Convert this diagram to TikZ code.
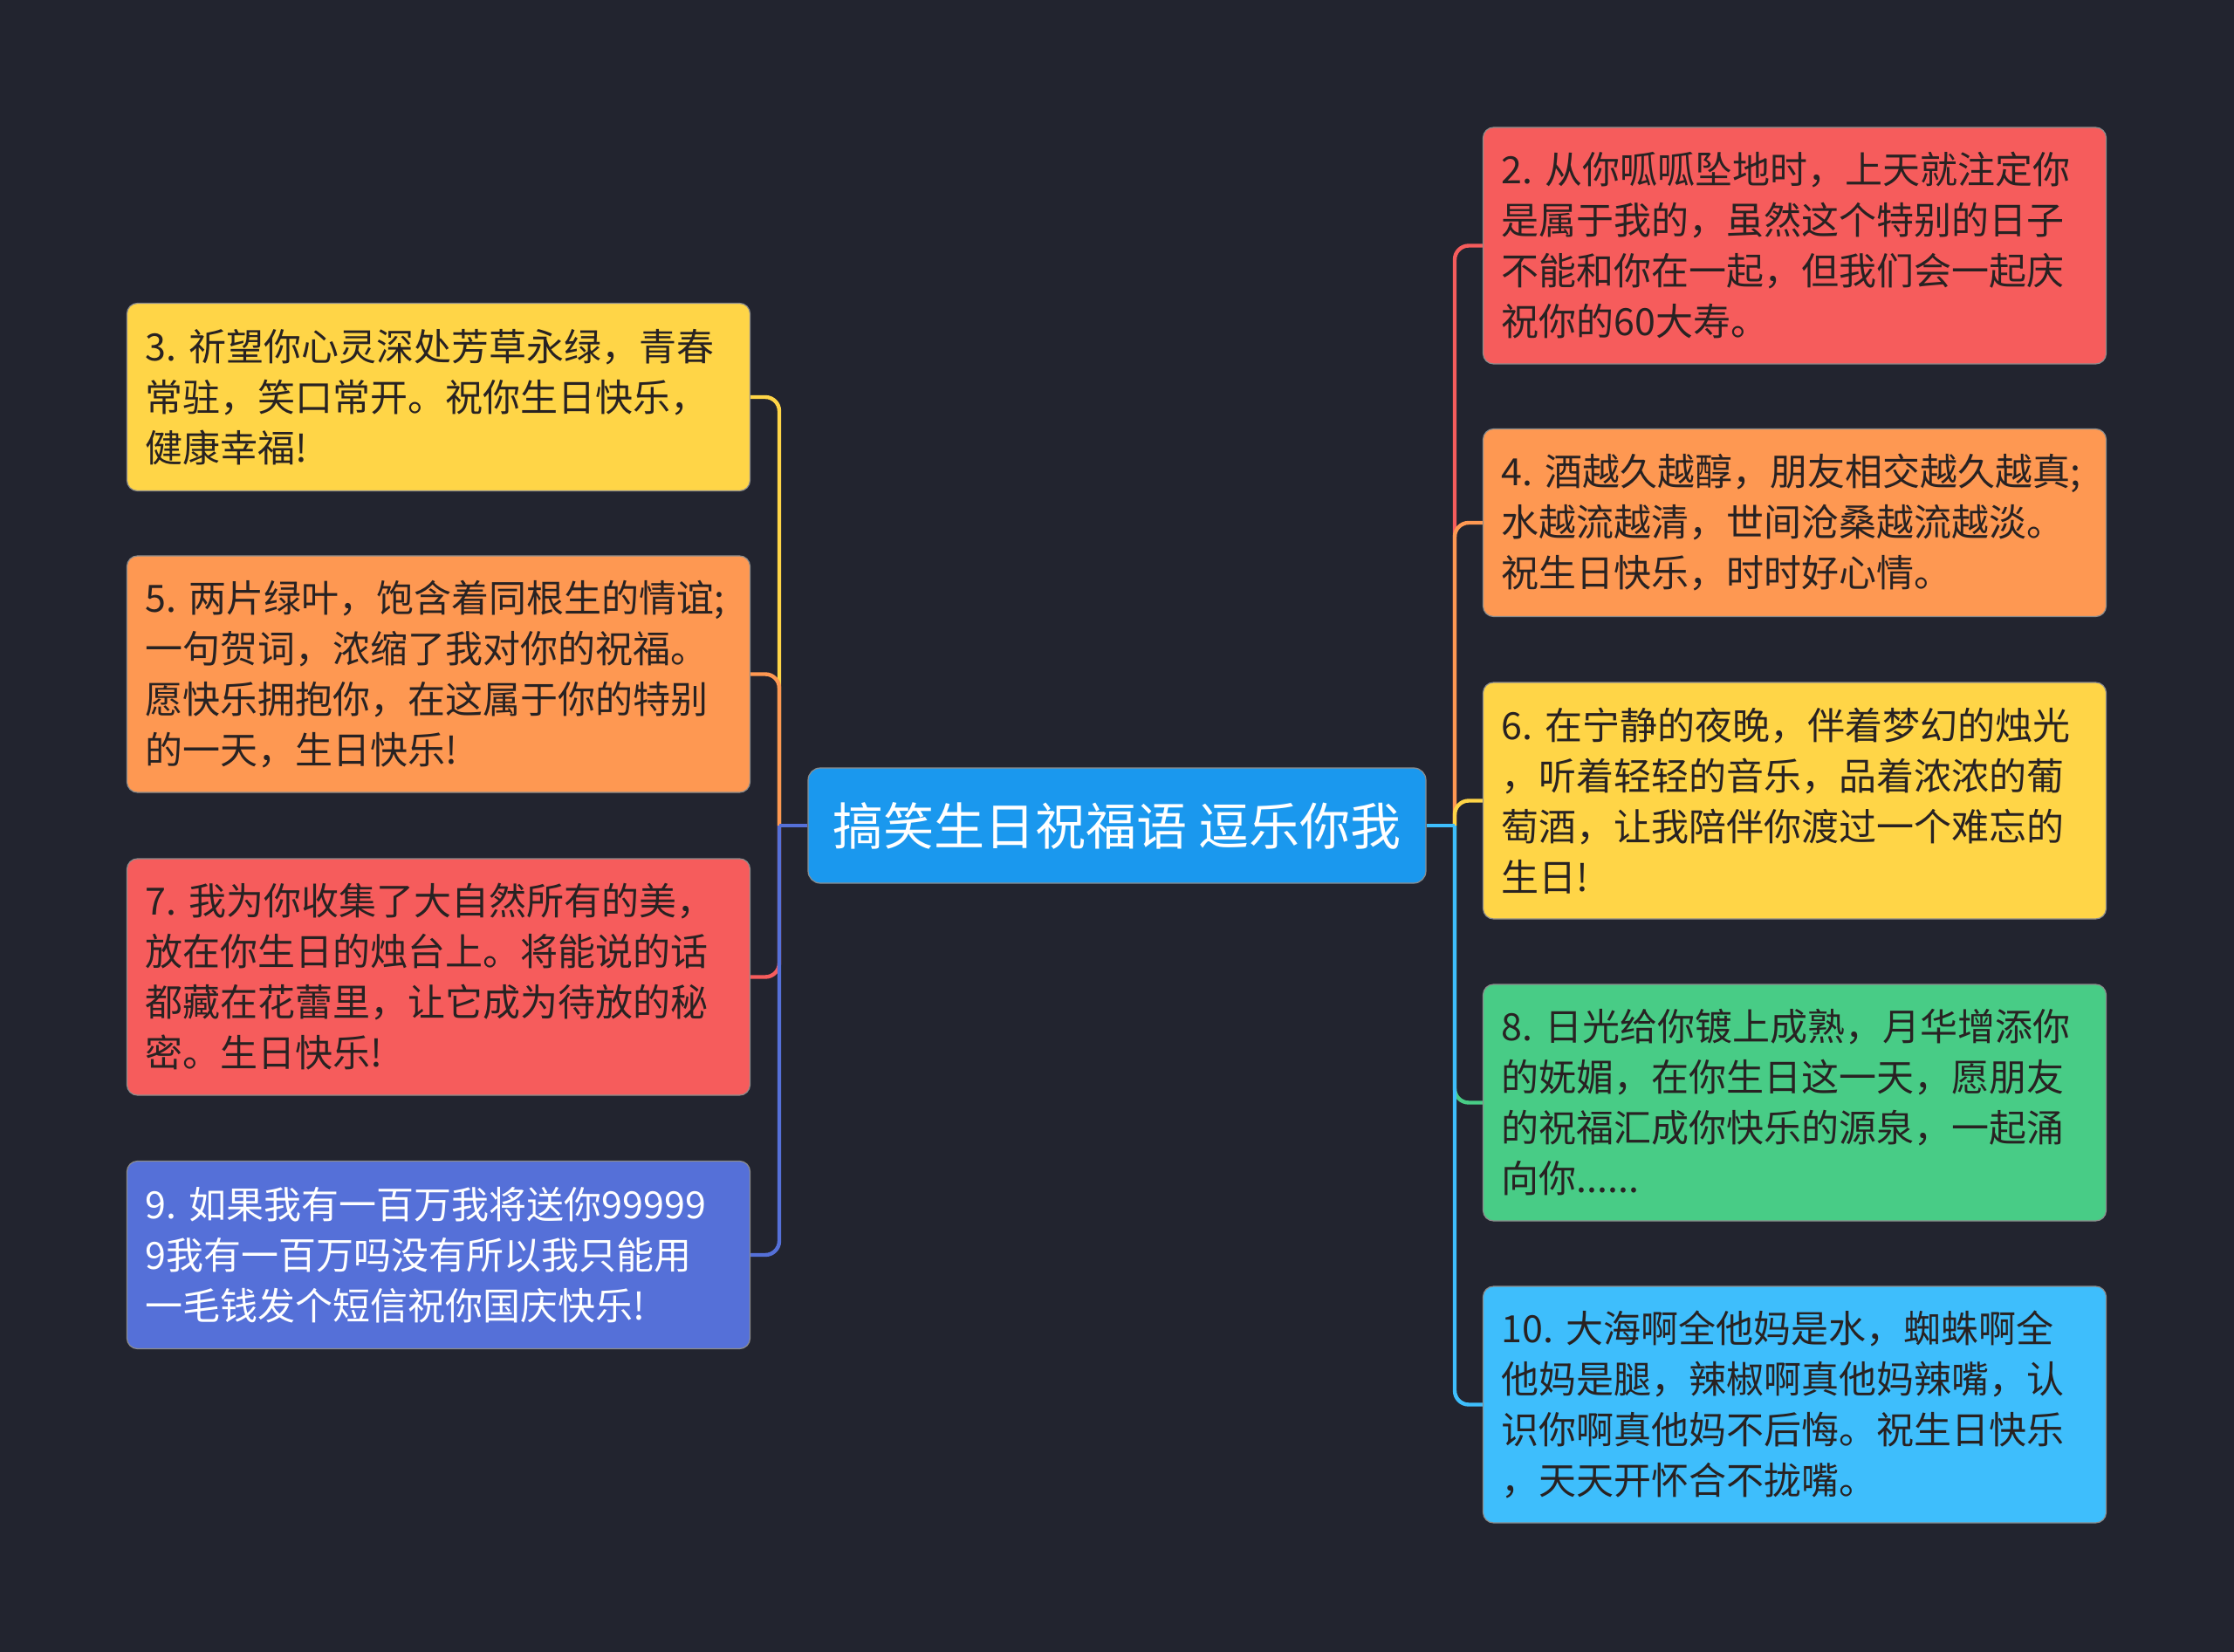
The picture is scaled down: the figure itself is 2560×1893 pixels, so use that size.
\documentclass[tikz,border=0pt]{standalone}
\usepackage{fontspec}
\newfontfamily\cjkfont{Noto Sans CJK SC}
\definecolor{bg}{RGB}{34,36,47}
\definecolor{cRed}{RGB}{246,92,92}
\definecolor{cOrange}{RGB}{254,152,82}
\definecolor{cYellow}{RGB}{255,213,71}
\definecolor{cGreen}{RGB}{72,204,134}
\definecolor{cCyan}{RGB}{62,190,252}
\definecolor{cBlue}{RGB}{85,112,216}
\definecolor{cCenter}{RGB}{26,152,238}
\definecolor{txtdark}{RGB}{40,34,34}
\begin{document}
\begin{tikzpicture}[x=0.5pt,y=-0.5pt,
  box/.style={rectangle, rounded corners=6pt, text width=336pt, inner xsep=10.5pt,
    inner ysep=0pt, align=left, text=txtdark, draw=black!45, line width=0.6pt,
    font=\cjkfont\fontsize{21.5}{29}\selectfont},
  four/.style={minimum height=135.5pt},
  three/.style={minimum height=107.5pt},
  conn/.style={line width=2.2pt, rounded corners=8pt},
  centerbox/.style={rectangle, rounded corners=7pt, fill=cCenter, text=white,
    minimum width=354pt, minimum height=66pt, inner sep=0pt, draw=black!45, line width=0.6pt,
    font=\cjkfont\fontsize{29}{34}\selectfont}
]
\fill[bg] (0,0) rectangle (2560,1893);
\useasboundingbox (0,0) rectangle (2560,1893);

% center
\node[centerbox] (c) at (1280,946) {搞笑生日祝福语 逗乐你我};
\coordinate (jl) at (893,946);
\coordinate (jr) at (1667,946);

% right boxes
\node[box,four,fill=cRed] (b2) at (2056.5,281.5) {2.~从你呱呱坠地时，上天就注定你\\是属于我的，虽然这个特别的日子\\不能和你在一起，但我们会一起庆\\祝你的60大寿。};
\node[box,three,fill=cOrange] (b4) at (2056.5,599) {4.~酒越久越醇，朋友相交越久越真;\\水越流越清，世间沧桑越流越淡。\\祝生日快乐，时时好心情。};
\node[box,four,fill=cYellow] (b6) at (2056.5,917.5) {6.~在宁静的夜晚，伴着梦幻的烛光\\，听着轻轻的音乐，品着浓浓的葡\\萄酒，让我陪伴你渡过一个难忘的\\生日!};
\node[box,four,fill=cGreen] (b8) at (2056.5,1263.5) {8.~日光给你镀上成熟，月华增添你\\的妩媚，在你生日这一天，愿朋友\\的祝福汇成你快乐的源泉，一起涌\\向你......};
\node[box,four,fill=cCyan] (b10) at (2056.5,1609.5) {10.~大海啊全他妈是水，蜘蛛啊全\\他妈是腿，辣椒啊真他妈辣嘴，认\\识你啊真他妈不后悔。祝生日快乐\\，天天开怀合不拢嘴。};

% left boxes
\node[box,three,fill=cYellow] (b3) at (502.5,455) {3.~祈望你心灵深处芳草永绿，青春\\常驻，笑口常开。祝你生日快乐，\\健康幸福!};
\node[box,four,fill=cOrange] (b5) at (502.5,772.5) {5.~两片绿叶，饱含着同根生的情谊;\\一句贺词，浓缩了我对你的祝福。\\愿快乐拥抱你，在这属于你的特别\\的一天，生日快乐!};
\node[box,four,fill=cRed] (b7) at (502.5,1119.5) {7.~我为你收集了大自然所有的美，\\放在你生日的烛台上。将能说的话\\都藏在花蕾里，让它成为待放的秘\\密。生日快乐!};
\node[box,three,fill=cBlue,text=white] (b9) at (502.5,1438) {9.~如果我有一百万我将送你99999\\9我有一百万吗没有所以我只能用\\一毛钱发个短信祝你国庆快乐!};

% connectors left
\foreach \b/\col in {b3/cYellow, b5/cOrange, b7/cRed, b9/cBlue}{
  \draw[conn,\col] (c.west) -- (jl);
  \draw[conn,\col] (jl) |- (\b.east);
}
% connectors right
\foreach \b/\col in {b2/cRed, b4/cOrange, b6/cYellow, b8/cGreen, b10/cCyan}{
  \draw[conn,\col] (c.east) -- (jr);
  \draw[conn,\col] (jr) |- (\b.west);
}
\end{tikzpicture}
\end{document}
